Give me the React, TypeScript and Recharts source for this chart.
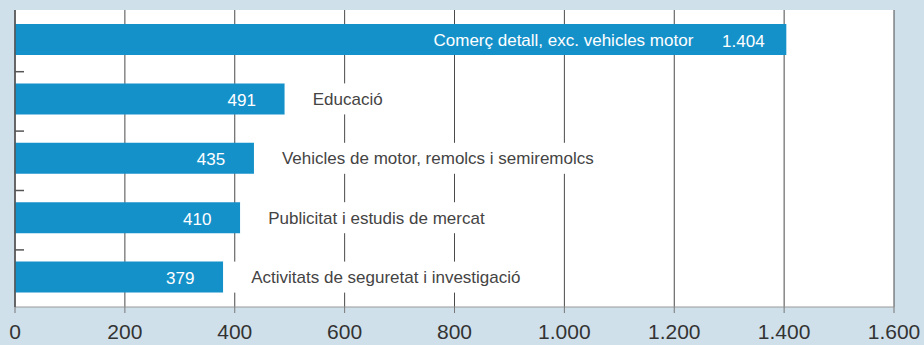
import React from 'react';
import { BarChart, Bar, XAxis, YAxis, CartesianGrid, LabelList } from 'recharts';

const categories = [
  'Comerç detall, exc. vehicles motor',
  'Educació',
  'Vehicles de motor, remolcs i semiremolcs',
  'Publicitat i estudis de mercat',
  'Activitats de seguretat i investigació',
];
const values = [1404, 491, 435, 410, 379];
const xTicks = [0, 200, 400, 600, 800, 1000, 1200, 1400, 1600];

const data = categories.map((name, i) => ({ name, value: values[i] }));

const fmt = (v: number) => String(v).replace(/\B(?=(\d{3})+(?!\d))/g, '.');

const FONT = "'Liberation Sans', Arial, sans-serif";
let ctx: CanvasRenderingContext2D | null = null;
function measure(text: string, size: number) {
  if (!ctx) ctx = document.createElement('canvas').getContext('2d');
  if (!ctx) return text.length * size * 0.5;
  ctx.font = `${size}px ${FONT}`;
  return ctx.measureText(text).width;
}

const ValueLabel = (props: any) => {
  const { x, y, width, height, value } = props;
  return (
    <text x={x + width - 43} y={y + height / 2 + 7} textAnchor="middle" fill="#ffffff" fontSize={17} fontFamily={FONT}>
      {fmt(Number(value))}
    </text>
  );
};

const NameLabel = (props: any) => {
  const { x, y, width, height, value, index } = props;
  if (index === 0) {
    return (
      <text x={x + width - 93} y={y + height / 2 + 6} textAnchor="end" fill="#ffffff" fontSize={17} fontFamily={FONT}>
        {value}
      </text>
    );
  }
  const w = measure(String(value), 17);
  return (
    <g>
      <rect x={x + width} y={y} width={28 + w + 10} height={height} fill="#ffffff" />
      <text x={x + width + 28} y={y + height / 2 + 6} textAnchor="start" fill="#444444" fontSize={17} fontFamily={FONT}>
        {value}
      </text>
    </g>
  );
};

const YTick = (props: any) => {
  const { x, y, index } = props;
  if (index === categories.length - 1) return <g />;
  return <line x1={x} x2={x + 9} y1={y + 32} y2={y + 32} stroke="#555" strokeWidth={1.5} />;
};

export default function App() {
  return (
    <div style={{ position: 'absolute', left: 0, top: 0, width: 924, height: 345, background: '#cfe0eb' }}>
      <BarChart
        width={924}
        height={345}
        data={data}
        layout="vertical"
        margin={{ top: 10, right: 30, bottom: 0, left: 14 }}
        barSize={31}
      >
        <CartesianGrid horizontal={false} vertical stroke="#4a4a4a" fill="#ffffff" />
        <XAxis
          type="number"
          domain={[0, 1600]}
          ticks={xTicks}
          interval={0}
          height={38}
          tickSize={6}
          tickMargin={11}
          axisLine={{ stroke: '#999' }}
          tickLine={{ stroke: '#777' }}
          tick={{ fill: '#333', fontSize: 21, fontFamily: FONT }}
          tickFormatter={fmt}
        />
        <XAxis
          xAxisId="top"
          orientation="top"
          type="number"
          domain={[0, 1600]}
          height={0}
          tick={false}
          tickLine={false}
          axisLine={{ stroke: '#bbb', strokeWidth: 1.5 }}
        />
        <YAxis
          type="category"
          dataKey="name"
          width={1}
          interval={0}
          tickSize={0}
          tickMargin={0}
          tickLine={false}
          axisLine={{ stroke: '#555', strokeWidth: 1.5 }}
          tick={<YTick />}
        />
        <Bar dataKey="value" fill="#1591ca" isAnimationActive={false}>
          <LabelList dataKey="name" content={<NameLabel />} />
          <LabelList dataKey="value" content={<ValueLabel />} />
        </Bar>
      </BarChart>
    </div>
  );
}
